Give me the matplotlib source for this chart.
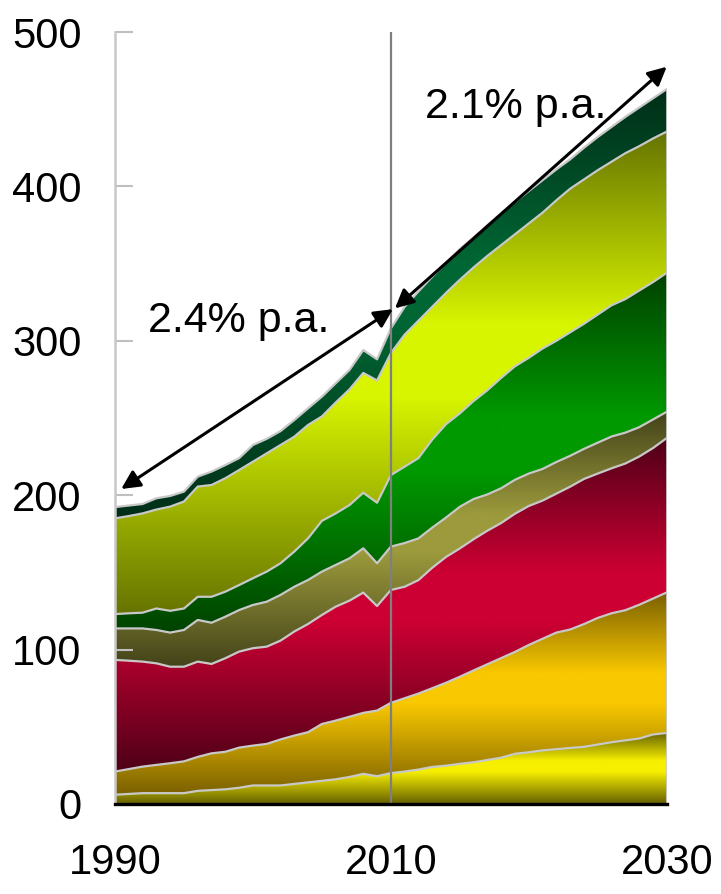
import numpy as np
import matplotlib
matplotlib.use("Agg")
import matplotlib.pyplot as plt
from matplotlib.colors import LinearSegmentedColormap

plt.rcParams['font.family'] = ['Liberation Sans', 'DejaVu Sans']

years = list(range(1990, 2031))

yellow = [6, 6.5, 7, 7, 7, 7, 8.5, 9, 9.5, 10.5, 12, 12, 12, 13, 14, 15, 16, 17.5, 19.5, 18,
          20, 21, 22.3, 24, 24.8, 26, 27, 28.5, 30, 32.5, 33.5, 34.7, 35.5, 36.3, 37, 38.5,
          40, 41.2, 42.4, 45, 46]
gold = [15, 16.1, 17.2, 18.3, 19.4, 20.6, 22, 23.8, 24.3, 26, 25.8, 26.9, 29.8, 31.3, 32.5,
        36.8, 38, 39, 39.5, 42.5, 45.5, 47.5, 49.2, 51, 53.7, 56.4, 59.5, 62, 64.5, 66, 69.5,
        72.3, 75.5, 76.7, 79.5, 82, 83.5, 84.3, 86.6, 88, 91]
crimson = [72.3, 70.2, 68, 65.8, 62.5, 61.3, 61.7, 57.9, 60.6, 62.2, 63.1, 63, 64, 67.4, 70.1,
           70.6, 73.8, 75.2, 77.9, 67.7, 73.1, 72.2, 73.5, 78, 81.5, 83.1, 85, 86.5, 87.5,
           89.5, 90, 89.5, 90, 92.5, 94, 93.5, 93.9, 95, 96, 97.5, 100]
khaki = [20.4, 20.9, 21.5, 21.6, 22.1, 23.8, 27, 26.7, 26.9, 26.9, 28, 29.1, 29.6, 29, 28.5,
         28.1, 27, 27.4, 28.7, 27.7, 28.1, 28.3, 27, 26, 25.5, 27, 26, 23.5, 22.5, 22, 21,
         20.5, 20.5, 20, 19.5, 20, 20.6, 20, 19, 18.5, 17]
green = [9.3, 9.8, 10.2, 13.9, 14.1, 13.9, 15, 16.8, 16.2, 16.2, 17.3, 19.5, 20.5, 22.8, 27,
         32.9, 33.4, 34.5, 36, 39.2, 46.3, 49.5, 52, 57, 60.5, 60.5, 63.5, 67.5, 71.5, 73.5,
         75, 78, 78.5, 80, 81, 83, 85, 86.5, 88.5, 89, 90]
yellowgreen = [62, 63, 64.3, 64.1, 67.5, 69.3, 71.4, 72.4, 73.5, 74.5, 75.5, 76.6, 76.6, 74.4,
               73.4, 67.6, 71.8, 74.9, 77.6, 79.2, 79, 85.5, 89, 86, 85, 86.5, 86.5, 87, 86,
               85.5, 87, 88, 91, 93, 93.5, 93.5, 93, 94.5, 93.5, 93, 91.5]
darkgreen = [7.3, 6.8, 6.1, 7.3, 6.9, 6.4, 6.4, 8.7, 8.5, 7.7, 10.8, 9.4, 9, 10.8, 10.8, 12.8,
             12.5, 12.6, 14.8, 13.7, 16, 18, 19, 19.5, 19.5, 20, 19.5, 20, 20.5, 21, 21, 21,
             20, 19, 20.5, 21.5, 22.5, 23.5, 25, 26, 27.5]

series = [yellow, gold, crimson, khaki, green, yellowgreen, darkgreen]
# (dark edge colour, bright centre colour)
colors = [("#656000", "#f7ef00"),
          ("#7a6000", "#f9c800"),
          ("#4e0018", "#cc0033"),
          ("#43431a", "#9c9a3c"),
          ("#004200", "#009900"),
          ("#667400", "#d8f500"),
          ("#002e18", "#006633")]

yticks = [0, 100, 200, 300, 400, 500]
xticks = [1990, 2010, 2030]
labels = ["2.4% p.a.", "2.1% p.a."]

fig = plt.figure(figsize=(7.21, 8.94), dpi=100)
ax = fig.add_axes([0.1595, 0.1007, 0.9247 - 0.1595, 0.9642 - 0.1007])

x = np.array(years, dtype=float)
base = np.zeros(len(x))
for vals, (dark, bright) in zip(series, colors):
    top = base + np.array(vals, dtype=float)
    poly = ax.fill_between(x, base, top, facecolor='none', edgecolor='none')
    cmap = LinearSegmentedColormap.from_list('g', [(0, dark), (0.45, bright), (0.6, bright), (1, dark)])
    ymin, ymax = base.min(), top.max()
    grad = np.linspace(0, 1, 256).reshape(-1, 1)
    im = ax.imshow(grad, cmap=cmap, aspect='auto', origin='lower',
                   extent=(x[0], x[-1], ymin, ymax), zorder=1, interpolation='bilinear')
    im.set_clip_path(poly.get_paths()[0], transform=ax.transData)
    ax.plot(x, top, color='#c8c8c8', lw=1.6, zorder=2, solid_joinstyle='round')
    base = top
ax.plot([x[-1], x[-1]], [0, base[-1]], color='#c8c8c8', lw=1.2, zorder=2)

ax.axvline(2010, color='#7f7f7f', lw=1.6, zorder=3)

ax.annotate('', xy=(1990.45, 204), xytext=(2010.15, 320.5),
            arrowprops=dict(arrowstyle='<|-|>', color='black', lw=2.2, mutation_scale=28,
                            shrinkA=0, shrinkB=0), zorder=4)
ax.annotate('', xy=(2010.3, 321), xytext=(2030, 477.5),
            arrowprops=dict(arrowstyle='<|-|>', color='black', lw=2.2, mutation_scale=28,
                            shrinkA=0, shrinkB=0), zorder=4)
ax.text(1992.4, 306, labels[0], fontsize=31, ha='left', va='baseline', zorder=5)
ax.text(2012.5, 444.5, labels[1], fontsize=31, ha='left', va='baseline', zorder=5)

ax.set_xlim(1990, 2030)
ax.set_ylim(0, 500)
ax.set_xticks(xticks)
ax.set_xticklabels([str(t) for t in xticks])
ax.set_yticks(yticks)
ax.set_yticklabels([str(t) for t in yticks])
ax.tick_params(axis='y', direction='in', length=13, width=1.5, color='#bfbfbf',
               labelsize=30, pad=24)
ax.tick_params(axis='x', length=0, labelsize=30, pad=28)
for s in ['top', 'right']:
    ax.spines[s].set_visible(False)
ax.spines['left'].set_color('#c8c8c8')
ax.spines['left'].set_linewidth(1.8)
ax.spines['bottom'].set_color('black')
ax.spines['bottom'].set_linewidth(2.4)
ax.spines['bottom'].set_zorder(6)

fig.savefig('out.png', dpi=100)
